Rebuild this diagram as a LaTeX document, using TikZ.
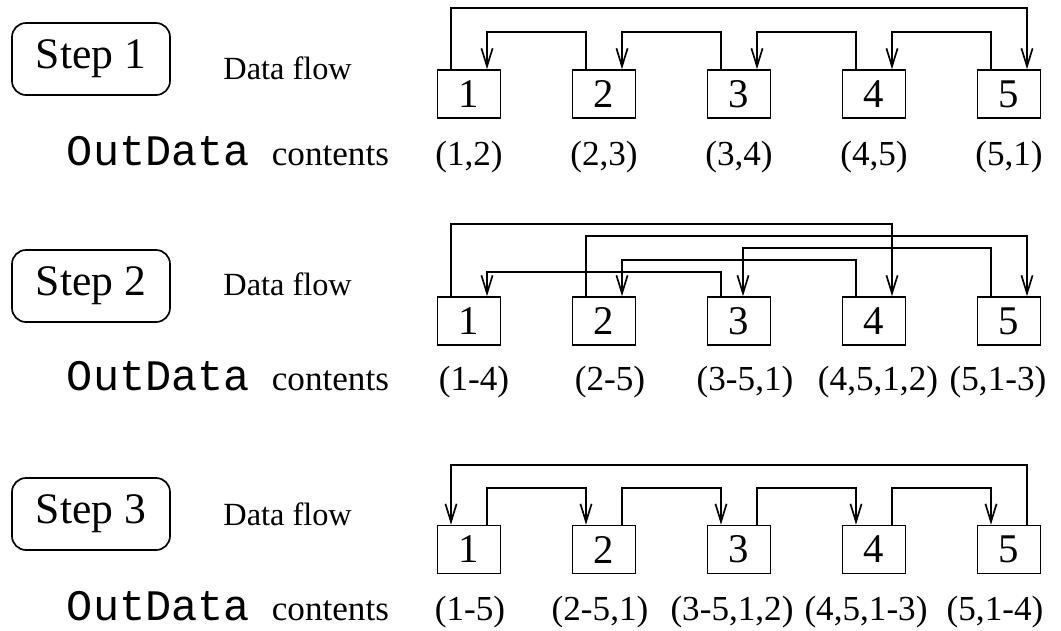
\documentclass[tikz,border=0pt]{standalone}
\usepackage{fontspec}
\setmainfont{Liberation Serif}
\newfontfamily\codefont{Liberation Mono}
\usetikzlibrary{arrows.meta}

\tikzset{
  proc/.style = {draw, line width = 1.2pt, minimum width = 1.575cm, minimum height = 1.2cm, inner sep = 0pt, font = \fontsize{29}{29}\selectfont},
  stepbox/.style = {draw, line width = 1.2pt, rounded corners = 0.35cm, minimum width = 3.95cm, minimum height = 1.8cm, font = \fontsize{31}{31}\selectfont},
  flow/.style = {line width = 1.2pt, -{Straight Barb[length = 0.45cm, width = 0.28cm]}},
  lbl/.style = {anchor = base, inner sep = 0pt, font = \fontsize{25}{25}\selectfont},
  code/.style = {anchor = base, inner sep = 0pt, font = \codefont\fontsize{31}{31}\selectfont},
  txt/.style = {inner sep = 0pt, font = \fontsize{23}{23}\selectfont}
}

\begin{document}
\begin{tikzpicture} [scale = 1]
\useasboundingbox (0.0, 0.0) rectangle (26.525, -15.75);

\node[stepbox] (st1) at (2.275, -1.475){Step 1};
\node[stepbox] (st2) at (2.275, -7.15){Step 2};
\node[stepbox] (st3) at (2.275, -12.85){Step 3};

\node[txt] (df1) at (7.19, -1.7){Data flow};
\node[txt] (df2) at (7.19, -7.1){Data flow};
\node[txt] (df3) at (7.19, -12.85){Data flow};

\node[code] (od1) at (3.96, -4.125){OutData};
\node[lbl] (ct1) at (8.26, -4.125){contents};
\node[code] (od2) at (3.96, -9.75){OutData};
\node[lbl] (ct2) at (8.26, -9.75){contents};
\node[code] (od3) at (3.96, -15.5){OutData};
\node[lbl] (ct3) at (8.26, -15.5){contents};

\node[proc] (s1p1) at (11.725, -2.35){1};
\node[proc] (s1p2) at (15.1, -2.35){2};
\node[proc] (s1p3) at (18.475, -2.35){3};
\node[proc] (s1p4) at (21.85, -2.35){4};
\node[proc] (s1p5) at (25.225, -2.35){5};

\node[proc] (s2p1) at (11.725, -8.025){1};
\node[proc] (s2p2) at (15.1, -8.025){2};
\node[proc] (s2p3) at (18.475, -8.025){3};
\node[proc] (s2p4) at (21.85, -8.025){4};
\node[proc] (s2p5) at (25.225, -8.025){5};

\node[proc] (s3p1) at (11.725, -13.7375){1};
\node[proc] (s3p2) at (15.1, -13.7375){2};
\node[proc] (s3p3) at (18.475, -13.7375){3};
\node[proc] (s3p4) at (21.85, -13.7375){4};
\node[proc] (s3p5) at (25.225, -13.7375){5};

\draw[flow] ([xshift = -0.45cm]s1p1.north) -- ++(0, 1.525) -| ([xshift = 0.45cm]s1p5.north);
\draw[flow] ([xshift = -0.45cm]s1p2.north) -- ++(0, 0.925) -| ([xshift = 0.45cm]s1p1.north);
\draw[flow] ([xshift = -0.45cm]s1p3.north) -- ++(0, 0.925) -| ([xshift = 0.45cm]s1p2.north);
\draw[flow] ([xshift = -0.45cm]s1p4.north) -- ++(0, 0.925) -| ([xshift = 0.45cm]s1p3.north);
\draw[flow] ([xshift = -0.45cm]s1p5.north) -- ++(0, 0.925) -| ([xshift = 0.45cm]s1p4.north);

\draw[flow] ([xshift = -0.45cm]s2p1.north) -- ++(0, 1.8) -| ([xshift = 0.45cm]s2p4.north);
\draw[flow] ([xshift = -0.45cm]s2p2.north) -- ++(0, 1.5) -| ([xshift = 0.45cm]s2p5.north);
\draw[flow] ([xshift = -0.45cm]s2p5.north) -- ++(0, 1.2) -| ([xshift = 0.1cm]s2p3.north);
\draw[flow] ([xshift = -0.45cm]s2p4.north) -- ++(0, 0.9) -| ([xshift = 0.45cm]s2p2.north);
\draw[flow] ([xshift = -0.45cm]s2p3.north) -- ++(0, 0.6) -| ([xshift = 0.45cm]s2p1.north);

\draw[flow] ([xshift = 0.45cm]s3p5.north) -- ++(0, 1.5) -| ([xshift = -0.45cm]s3p1.north);
\draw[flow] ([xshift = 0.45cm]s3p1.north) -- ++(0, 0.925) -| ([xshift = -0.45cm]s3p2.north);
\draw[flow] ([xshift = 0.45cm]s3p2.north) -- ++(0, 0.925) -| ([xshift = -0.45cm]s3p3.north);
\draw[flow] ([xshift = 0.45cm]s3p3.north) -- ++(0, 0.925) -| ([xshift = -0.45cm]s3p4.north);
\draw[flow] ([xshift = 0.45cm]s3p4.north) -- ++(0, 0.925) -| ([xshift = -0.45cm]s3p5.north);

\node[lbl] (s1c1) at (11.725, -4.125){(1,2)};
\node[lbl] (s1c2) at (15.1, -4.125){(2,3)};
\node[lbl] (s1c3) at (18.475, -4.125){(3,4)};
\node[lbl] (s1c4) at (21.85, -4.125){(4,5)};
\node[lbl] (s1c5) at (25.225, -4.125){(5,1)};

\node[lbl] (s2c1) at (11.85, -9.75){(1-4)};
\node[lbl] (s2c2) at (15.25, -9.75){(2-5)};
\node[lbl] (s2c3) at (18.625, -9.75){(3-5,1)};
\node[lbl] (s2c4) at (21.95, -9.75){(4,5,1,2)};
\node[lbl] (s2c5) at (24.95, -9.75){(5,1-3)};

\node[lbl] (s3c1) at (11.75, -15.5){(1-5)};
\node[lbl] (s3c2) at (15.0, -15.5){(2-5,1)};
\node[lbl] (s3c3) at (18.3, -15.5){(3-5,1,2)};
\node[lbl] (s3c4) at (21.65, -15.5){(4,5,1-3)};
\node[lbl] (s3c5) at (24.875, -15.5){(5,1-4)};
\end{tikzpicture}
\end{document}
